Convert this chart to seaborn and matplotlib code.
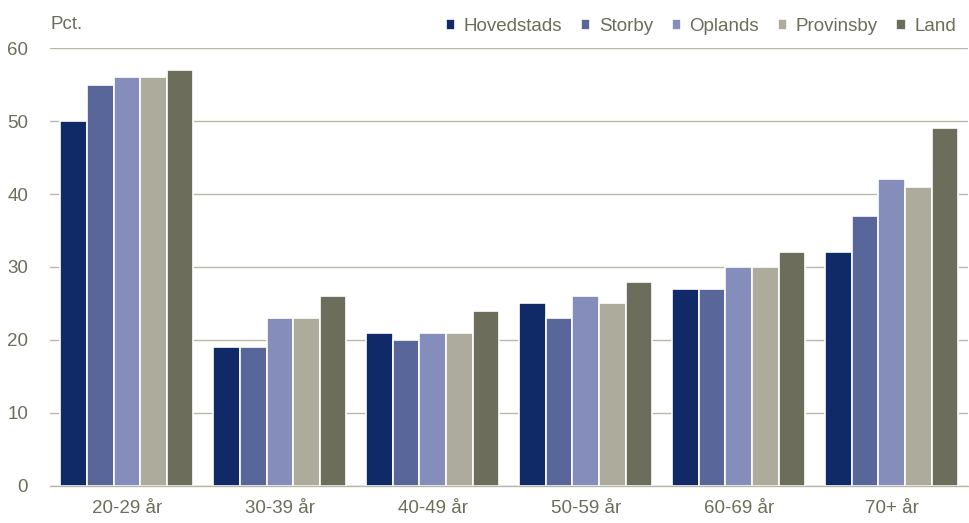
import pandas as pd
import matplotlib.pyplot as plt
import seaborn as sns

# Data
aldersgrupper = ['20-29 år', '30-39 år', '40-49 år', '50-59 år', '60-69 år', '70+ år']
kommunetyper = ['Hovedstads', 'Storby', 'Oplands', 'Provinsby', 'Land']
hovedstads = [50, 19, 21, 25, 27, 32]
storby = [55, 19, 20, 23, 27, 37]
oplands = [56, 23, 21, 26, 30, 42]
provinsby = [56, 23, 21, 25, 30, 41]
land = [57, 26, 24, 28, 32, 49]

farver = ['#0f2a66', '#58669a', '#858eba', '#adab9c', '#6d6d5b']
tekstfarve = '#6d6d5b'
gitterfarve = '#b8b8a8'

rows = []
for navn, vals in zip(kommunetyper, [hovedstads, storby, oplands, provinsby, land]):
    for grp, v in zip(aldersgrupper, vals):
        rows.append({'alder': grp, 'type': navn, 'pct': v})
df = pd.DataFrame(rows)

sns.set_theme(style="white")
plt.rcParams['font.family'] = ['Liberation Sans', 'DejaVu Sans']
fs = 13.5

fig = plt.figure(figsize=(9.7, 5.23), dpi=100)
ax = fig.add_axes([0.052, 0.071, 0.946, 0.837])

sns.barplot(data=df, x='alder', y='pct', hue='type', order=aldersgrupper,
            hue_order=kommunetyper, palette=farver, saturation=1, width=0.87,
            edgecolor='white', linewidth=1.2, ax=ax, legend=True)

ax.set_ylim(0, 60)
ax.set_yticks(range(0, 61, 10))
ax.set_xlim(-0.5, 5.5)
ax.yaxis.grid(True, color=gitterfarve, linewidth=1)
ax.set_axisbelow(True)
ax.set_xlabel('')
ax.set_ylabel('')
for s in ['left', 'right', 'top']:
    ax.spines[s].set_visible(False)
ax.spines['bottom'].set_color(gitterfarve)
ax.spines['bottom'].set_linewidth(1)
ax.tick_params(axis='both', length=0, labelsize=fs, colors=tekstfarve)
ax.tick_params(axis='x', pad=10)
ax.tick_params(axis='y', pad=16)

ax.text(0.0, 1.035, 'Pct.', transform=ax.transAxes, fontsize=fs,
        color=tekstfarve, ha='left', va='bottom')

handles, labels = ax.get_legend_handles_labels()
ax.get_legend().remove()
leg = fig.legend(handles, labels, loc='upper right', bbox_to_anchor=(1.003, 0.998),
                 ncol=5, frameon=False, fontsize=fs, handlelength=0.5,
                 handleheight=0.5, handletextpad=0.45, columnspacing=1.0)
for t in leg.get_texts():
    t.set_color(tekstfarve)

fig.savefig('out.png', dpi=100)
